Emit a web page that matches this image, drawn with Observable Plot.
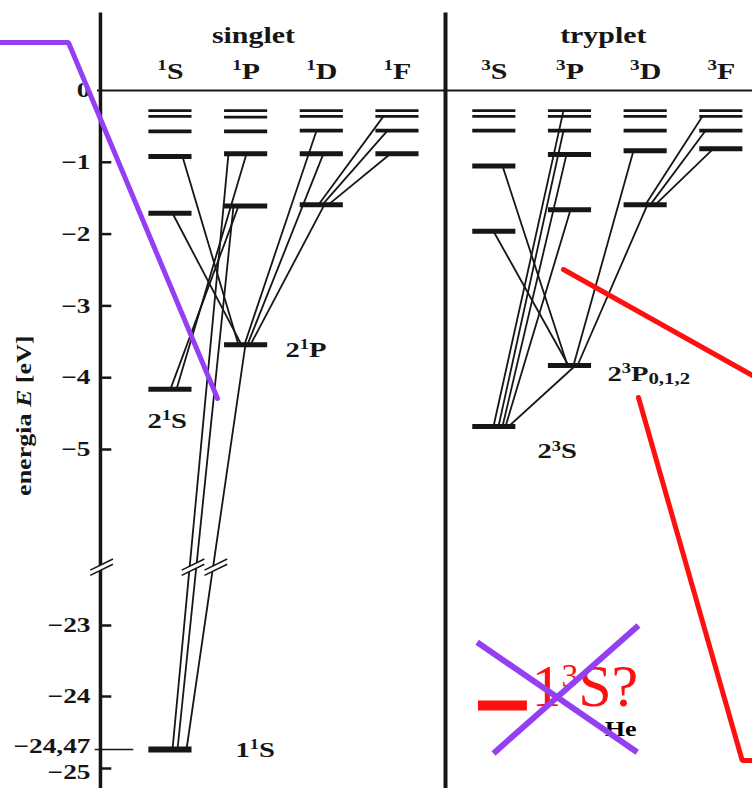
<!DOCTYPE html>
<html><head><meta charset="utf-8">
<script src="https://cdn.jsdelivr.net/npm/d3@7"></script>
<script src="https://cdn.jsdelivr.net/npm/@observablehq/plot@0.6"></script>
<style>html,body{margin:0;padding:0;background:#fff;overflow:hidden}</style>
</head><body>
<script>
// ---- columns (x in "column units") ----
const singletCols = ["¹S", "¹P", "¹D", "¹F"];
const tripletCols = ["³S", "³P", "³D", "³F"];
const singletX = [1, 2, 3, 4];
const tripletX = [5.28, 6.28, 7.28, 8.28];
const groupTitles = ["singlet", "tryplet"];
const groupTitleX = [2.097, 6.72];

// ---- energy levels (eV) per column ----
const singletLevels = [
  [-0.28, -0.36, -0.57, -0.92, -1.71, -4.16, -24.47],
  [-0.28, -0.37, -0.57, -0.88, -1.61, -3.54],
  [-0.28, -0.36, -0.56, -0.88, -1.59],
  [-0.28, -0.36, -0.56, -0.88]
];
const tripletLevels = [
  [-0.28, -0.36, -0.56, -1.05, -1.96, -4.68],
  [-0.28, -0.36, -0.56, -0.89, -1.66, -3.83],
  [-0.28, -0.36, -0.56, -0.84, -1.59],
  [-0.28, -0.36, -0.56, -0.81]
];

// ---- transitions [x1, E1, x2, E2] ----
const singletTransitions = [
  [1.159, -0.92, 1.899, -3.54],
  [1.027, -1.71, 1.938, -3.54],
  [2.005, -0.88, 1.080, -4.16],
  [1.899, -1.61, 1.000, -4.16],
  [1.767, -0.88, 1.027, -24.47],
  [1.833, -1.61, 1.093, -24.47],
  [1.991, -3.54, 1.212, -24.47],
  [3.035, -1.59, 2.058, -3.54],
  [3.022, -0.88, 2.018, -3.54],
  [2.930, -0.56, 1.978, -3.54],
  [3.814, -0.36, 2.956, -1.59],
  [3.868, -0.56, 3.009, -1.59],
  [3.908, -0.88, 3.088, -1.59]
];
const tripletTransitions = [
  [5.388, -1.05, 6.247, -3.83],
  [5.269, -1.96, 6.260, -3.83],
  [6.194, -0.28, 5.269, -4.68],
  [6.194, -0.56, 5.335, -4.68],
  [6.234, -0.89, 5.388, -4.68],
  [6.287, -1.66, 5.428, -4.68],
  [6.353, -3.83, 5.467, -4.68],
  [7.119, -0.84, 6.326, -3.83],
  [7.304, -1.59, 6.379, -3.83],
  [8.031, -0.36, 7.277, -1.59],
  [8.070, -0.56, 7.343, -1.59],
  [8.176, -0.81, 7.409, -1.59]
];

// ---- axis ----
const yTicks = [0, -1, -2, -3, -4, -5, -23, -24, -24.47, -25];
const yTickLabels = ["0", "−1", "−2", "−3", "−4", "−5", "−23", "−24", "−24,47", "−25"];
const yTitle = "energia E [eV]";
const axisX = 0.075;
const dividerX = 4.635;
const breakMarkX = [0.09, 1.298, 1.6];

// ---- level labels ----
const levelLabels = ["2¹S", "2¹P", "1¹S", "2³S", "2³P"];
const levelLabelX = [0.698, 2.52, 1.859, 5.85, 6.775];
const levelLabelE = [-4.694, -3.714, -24.685, -5.125, -4.04];
const subLabel = ["0,1,2"];
const subLabelX = [7.317];
const subLabelE = [-4.081];

// ---- overlay annotations ----
const purplePathX = [-1.246, -0.348, 1.622];
const purplePathE = [0.669, 0.669, -4.29];
const redLineAX = [6.194, 8.692];
const redLineAE = [-2.493, -3.969];
const redLineBX = [7.185, 8.556, 8.692];
const redLineBE = [-4.276, -24.777, -24.777];
const crossX1 = [5.053, 5.269], crossE1 = [-23.235, -24.579];
const crossX2 = [7.168, 7.185], crossE2 = [-24.545, -23.0];
const tripletGroundGuess = "1³S?";
const guessX = 5.77, guessE = -24.08;
const guessBarX = [5.07, 5.717];
const elementLabel = "He";
const elementX = 6.948, elementE = -24.346;

// ---- build tables ----
const levels = [
  ...singletLevels.flatMap((es, i) => es.map(E => ({x: singletX[i], E}))),
  ...tripletLevels.flatMap((es, i) => es.map(E => ({x: tripletX[i], E})))
];
const transitions = [...singletTransitions, ...tripletTransitions].map(([x1, E1, x2, E2]) => ({x1, E1, x2, E2}));
const headers = [
  ...singletCols.map((t, i) => ({t, x: singletX[i]})),
  ...tripletCols.map((t, i) => ({t, x: tripletX[i]}))
];
const ticks = yTicks.map((v, i) => ({v, label: yTickLabels[i]}));
const HW = 0.285;
const ink = "#161616";
const purple = "#9440f2";
const red = "#ff1010";
const tickText = {x: () => axisX, y: "v", text: "label", textAnchor: "end", dx: -10, fontSize: 21, fontWeight: "bold", fill: ink};

const chart = Plot.plot({
  width: 752,
  height: 788,
  margin: 0,
  style: {fontFamily: "'Liberation Serif', 'Times New Roman', serif", background: "white", color: ink},
  x: {type: "linear", domain: [-1.246, 8.692], range: [0, 752], axis: null},
  y: {type: "linear",
      domain: [1.1, 0, -5, -6.6, -22.2, -23, -24, -24.47, -25, -25.3],
      range: [11, 90, 449, 564, 568, 625, 696, 749, 768, 788], axis: null},
  marks: [
    // zero line and axis verticals
    Plot.ruleY([0], {x1: () => 0.035, x2: () => 8.692, stroke: ink, strokeWidth: 2}),
    Plot.ruleX([axisX], {y1: () => 1.08, y2: () => -25.3, stroke: ink, strokeWidth: 3.5}),
    Plot.ruleX([dividerX], {y1: () => 1.08, y2: () => -25.3, stroke: ink, strokeWidth: 4}),
    // ticks
    Plot.ruleY(ticks.filter(d => d.v !== 0 && d.v !== -24.47), {y: "v", x1: () => axisX, x2: () => axisX + 0.15, stroke: ink, strokeWidth: 2.5}),
    Plot.ruleY(ticks.filter(d => d.v === -24.47), {y: "v", x1: () => axisX - 0.07, x2: () => axisX + 0.44, stroke: ink, strokeWidth: 1.3}),
    Plot.text(ticks.filter(d => d.v > -24.2), tickText),
    Plot.text(ticks.filter(d => d.v === -24.47), {...tickText, dy: -3.5}),
    Plot.text(ticks.filter(d => d.v === -25), {...tickText, dy: 4}),
    Plot.text([yTitle], {x: () => -0.929, y: () => -4.53, text: d => d, rotate: -90, fontSize: 20, fontWeight: "bold", fill: ink}),
    // transitions
    Plot.link(transitions, {x1: "x1", y1: "E1", x2: "x2", y2: "E2", stroke: ink, strokeWidth: 1.8}),
    // levels
    Plot.ruleY(levels, {y: "E", x1: d => d.x - HW, x2: d => d.x + HW, stroke: ink,
      strokeWidth: d => d.E > -0.4 ? 2.7 : d.E > -0.7 ? 3.8 : d.E < -20 ? 6 : 5}),
    // axis breaks
    Plot.link(breakMarkX, {x1: d => d - 0.15, x2: d => d + 0.15, y1: () => -22.26, y2: () => -6.56, stroke: "white", strokeWidth: 5}),
    Plot.link(breakMarkX, {x1: d => d - 0.15, x2: d => d + 0.15, y1: () => -22.26, y2: () => -6.56, stroke: ink, strokeWidth: 1.5, dy: -2.6}),
    Plot.link(breakMarkX, {x1: d => d - 0.15, x2: d => d + 0.15, y1: () => -22.26, y2: () => -6.56, stroke: ink, strokeWidth: 1.5, dy: 2.6}),
    // titles and headers
    Plot.text(groupTitles, {x: (d, i) => groupTitleX[i], y: () => 0.668, text: d => d, lineAnchor: "bottom", fontSize: 23, fontWeight: "bold", fill: ink}),
    Plot.text(headers, {x: "x", y: () => 0.167, text: "t", lineAnchor: "bottom", fontSize: 23, fontWeight: "bold", fill: ink}),
    // level labels
    Plot.text(levelLabels, {x: (d, i) => levelLabelX[i], y: (d, i) => levelLabelE[i], text: d => d, textAnchor: "start", lineAnchor: "bottom", fontSize: 22, fontWeight: "bold", fill: ink}),
    Plot.text(subLabel, {x: (d, i) => subLabelX[i], y: (d, i) => subLabelE[i], text: d => d, textAnchor: "start", lineAnchor: "bottom", fontSize: 16, fontWeight: "bold", fill: ink}),
    // overlays
    Plot.text([elementLabel], {x: () => elementX, y: () => elementE, text: d => d, lineAnchor: "bottom", fontSize: 20, fontWeight: "bold", fill: "#000"}),
    Plot.text([tripletGroundGuess], {x: () => guessX, y: () => guessE, text: d => d, textAnchor: "start", lineAnchor: "bottom", fontSize: 60, fill: red}),
    Plot.ruleY([guessE], {x1: () => guessBarX[0], x2: () => guessBarX[1], stroke: red, strokeWidth: 10}),
    Plot.line(purplePathX.map((x, i) => ({x, E: purplePathE[i]})), {x: "x", y: "E", stroke: purple, strokeWidth: 5, strokeLinejoin: "miter"}),
    Plot.line(redLineAX.map((x, i) => ({x, E: redLineAE[i]})), {x: "x", y: "E", stroke: red, strokeWidth: 5}),
    Plot.line(redLineBX.map((x, i) => ({x, E: redLineBE[i]})), {x: "x", y: "E", stroke: red, strokeWidth: 5, strokeLinejoin: "miter"}),
    Plot.link(crossX1.map((x, i) => ({x1: x, E1: crossE1[i], x2: crossX2[i], E2: crossE2[i]})), {x1: "x1", y1: "E1", x2: "x2", y2: "E2", stroke: purple, strokeWidth: 6})
  ]
});
document.body.append(chart);

// typographic post-processing: italic E, real superscripts, stretched scanned lettering
const K = 1.3;
chart.querySelectorAll("text").forEach(t => {
  const g = t.closest("g[fill]");
  const f = g ? g.getAttribute("fill") : null;
  const gs = t.closest("g[font-size]");
  const fs = parseFloat(gs ? gs.getAttribute("font-size") : 20);
  const s = t.textContent;
  if (s === yTitle) {
    t.innerHTML = 'energia <tspan font-style="italic">E</tspan> [eV]';
  } else {
    const m = s.match(/[¹³]/);
    if (m) {
      const isRed = f === red;
      const size = (isRed ? 0.56 : 0.64) * fs;
      const up = (isRed ? 0.31 : 0.36) * fs;
      const before = s.slice(0, m.index), after = s.slice(m.index + 1);
      const digit = m[0] === "¹" ? "1" : "3";
      t.innerHTML = (before ? `<tspan>${before}</tspan>` : "") +
        `<tspan font-size="${size.toFixed(1)}" dy="${(-up).toFixed(1)}">${digit}</tspan>` +
        `<tspan dy="${up.toFixed(1)}">${after}</tspan>`;
    }
  }
  if (f === red) return;
  const L = t.getComputedTextLength();
  t.setAttribute("textLength", (L * K).toFixed(1));
  t.setAttribute("lengthAdjust", "spacingAndGlyphs");
});
</script>
</body></html>
